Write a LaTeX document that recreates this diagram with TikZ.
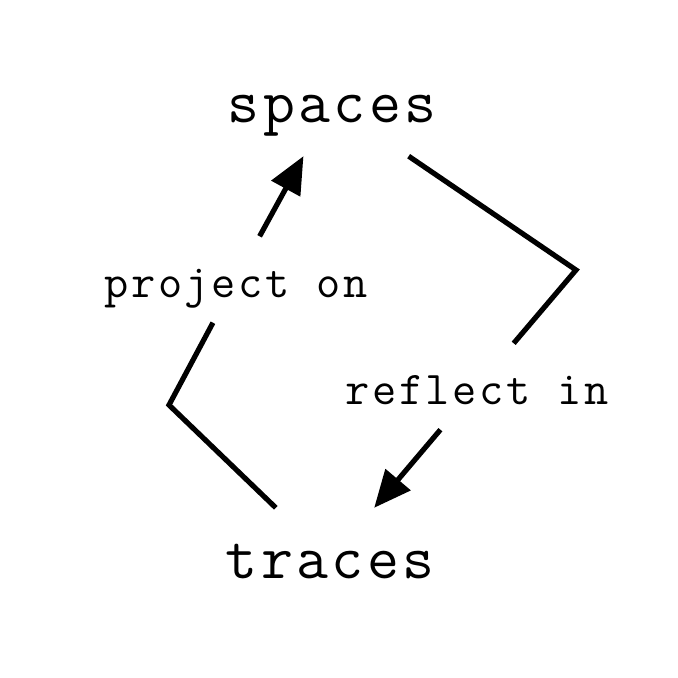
\documentclass[tikz,border=0pt]{standalone}
\usepackage{fontspec}
\newfontfamily\dmono{lmmono12-regular.otf}[LetterSpace=5.5]
\usetikzlibrary{arrows.meta}
\begin{document}
\begin{tikzpicture}[x=1bp,y=-1bp,
  conn/.style={line width=5.2bp},
  arr/.style={conn,-{Triangle[length=37bp,width=32bp]}},
  term/.style={font=\dmono\fontsize{62bp}{70bp}\selectfont, inner sep=0pt,
    minimum height=104bp, text height=44bp, text depth=7bp},
  lab/.style={font=\dmono\fontsize{47bp}{54bp}\selectfont, inner sep=0pt,
    minimum height=86bp, text height=38bp, text depth=2bp}]
\useasboundingbox (0,0) rectangle (678,678);
\node[term] (spaces) at (332,104) {spaces};
\node[term] (traces) at (330,560) {traces};
\node[lab] (proj) at (236,279.5) {project on};
\node[lab] (refl) at (477,386.5) {reflect in};
\coordinate (cR) at (576,270);
\coordinate (cL) at (169,405);
\draw[conn] (spaces) -- (cR) -- (refl);
\draw[arr] (refl) -- (traces);
\draw[conn] (traces) -- (cL) -- (proj);
\draw[arr] (proj) -- (spaces);
\end{tikzpicture}
\end{document}
